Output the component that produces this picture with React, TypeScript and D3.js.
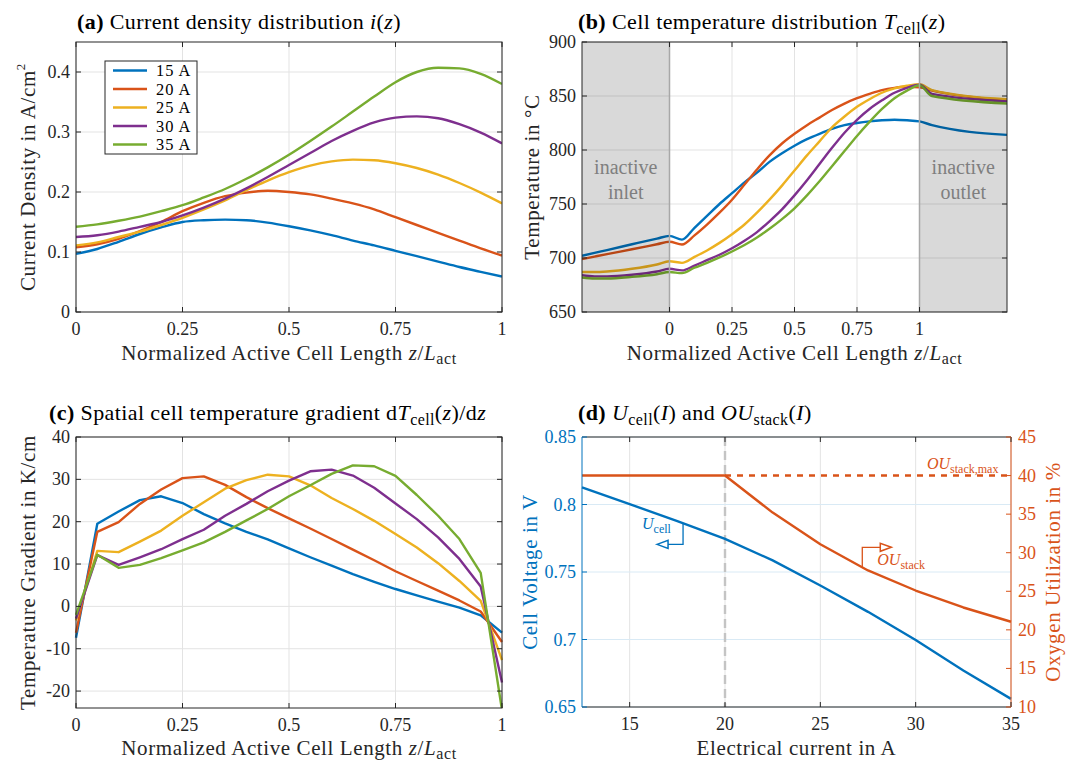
import React from "react";
import * as d3 from "d3";

// ---------- data ----------
const COLORS = ["#0072BD", "#D95319", "#EDB120", "#7E2F8E", "#77AC30"];
const seriesNames = ["15 A", "20 A", "25 A", "30 A", "35 A"];

// (a) current density vs normalized length
const zA = [0, 0.05, 0.1, 0.15, 0.2, 0.25, 0.3, 0.35, 0.4, 0.45, 0.5, 0.55, 0.6, 0.65, 0.7, 0.75, 0.8, 0.85, 0.9, 0.95, 1];
const iz15 = [0.097, 0.105, 0.117, 0.130, 0.141, 0.150, 0.153, 0.154, 0.153, 0.149, 0.143, 0.136, 0.128, 0.119, 0.111, 0.102, 0.093, 0.084, 0.075, 0.067, 0.059];
const iz20 = [0.108, 0.113, 0.122, 0.135, 0.150, 0.168, 0.182, 0.193, 0.199, 0.202, 0.200, 0.196, 0.189, 0.181, 0.171, 0.158, 0.145, 0.132, 0.119, 0.106, 0.094];
const iz25 = [0.111, 0.116, 0.125, 0.134, 0.145, 0.157, 0.171, 0.186, 0.203, 0.219, 0.233, 0.244, 0.251, 0.254, 0.253, 0.248, 0.240, 0.229, 0.215, 0.199, 0.181];
const iz30 = [0.125, 0.128, 0.134, 0.142, 0.150, 0.161, 0.174, 0.189, 0.206, 0.225, 0.245, 0.265, 0.285, 0.302, 0.316, 0.324, 0.326, 0.323, 0.313, 0.299, 0.281];
const iz35 = [0.142, 0.146, 0.152, 0.159, 0.168, 0.178, 0.191, 0.205, 0.222, 0.241, 0.262, 0.285, 0.309, 0.334, 0.359, 0.383, 0.400, 0.407, 0.406, 0.397, 0.380];
const currentDensity = [iz15, iz20, iz25, iz30, iz35];

// (b) cell temperature incl. inactive inlet/outlet
const zB = [-0.35, -0.3, -0.25, -0.15, -0.05, 0, 0.05, 0.1, 0.15, 0.2, 0.25, 0.3, 0.35, 0.4, 0.45, 0.5, 0.55, 0.6, 0.65, 0.7, 0.75, 0.8, 0.85, 0.9, 0.95, 1, 1.05, 1.35];
const T15 = [702, 704.7, 707.3, 712.7, 718, 720.5, 717, 728, 739, 750, 760, 770, 779, 789, 797, 804, 810, 815, 819.5, 823, 825, 826.5, 827.5, 828, 827.5, 826.5, 823, 814];
const T20 = [699, 701.3, 703.6, 708.1, 712.7, 715, 712.5, 721, 731, 742, 754, 768, 782, 795, 806, 815, 823, 830, 837, 843, 848, 852, 855.5, 857.5, 858.5, 858, 855, 846];
const T25 = [687, 687, 687.5, 690, 694, 697, 695.5, 701, 707, 714, 722, 731, 742, 754, 767, 781, 795, 808, 821, 831, 840, 847, 853, 857, 859.5, 861, 855.5, 847];
const T30 = [684, 683, 683, 684.5, 687.5, 690, 688.5, 693, 698, 703, 709, 716, 724, 734, 745, 758, 772, 787, 802, 816, 828, 838, 846, 853, 857.5, 860.5, 852, 845];
const T35 = [682, 681, 681, 682.5, 685, 687, 686, 691, 695.5, 700.5, 706, 712, 719, 727, 736, 746, 758, 771, 785, 799, 813, 826, 838, 848, 855, 860, 850, 843];
const cellTemp = [T15, T20, T25, T30, T35];

// (c) spatial temperature gradient
const g15 = [-7.4, 19.5, 22.4, 25.1, 26.0, 24.4, 21.8, 19.6, 17.6, 15.8, 13.7, 11.6, 9.6, 7.6, 5.8, 4.1, 2.6, 1.1, -0.3, -2.1, -6.2];
const g20 = [-6.2, 17.6, 19.9, 24.2, 27.6, 30.3, 30.7, 28.7, 25.8, 23.2, 20.8, 18.4, 15.9, 13.4, 10.9, 8.3, 6.0, 3.7, 1.4, -1.2, -8.4];
const g25 = [-3.3, 13.1, 12.8, 15.3, 17.9, 21.4, 24.6, 27.8, 29.8, 31.1, 30.7, 28.6, 25.6, 23.0, 20.2, 17.1, 13.9, 10.2, 6.0, 1.3, -12.7];
const g30 = [-2.9, 12.1, 9.8, 11.6, 13.5, 15.9, 18.1, 21.4, 24.2, 27.2, 29.7, 31.9, 32.3, 30.9, 28.0, 24.3, 20.6, 16.3, 11.2, 4.7, -18.0];
const g35 = [-2.0, 12.2, 9.1, 9.8, 11.4, 13.2, 15.1, 17.6, 20.3, 23.0, 26.0, 28.6, 31.3, 33.3, 33.1, 30.8, 26.3, 21.4, 15.9, 7.9, -24.5];
const tempGradient = [g15, g20, g25, g30, g35];

// (d) cell voltage & oxygen utilization vs current
const currentI = [12.5, 15, 17.5, 20, 22.5, 25, 27.5, 30, 32.5, 35];
const uCell = [0.8127, 0.8003, 0.7876, 0.7746, 0.7586, 0.7400, 0.7205, 0.6996, 0.6770, 0.6560];
const ouStack = [40, 40, 40, 40, 35.2, 31.1, 27.7, 25.1, 22.9, 21.05];
const ouMax = 40;
const iSwitch = 20;

// ticks
const xTicksZ = [0, 0.25, 0.5, 0.75, 1];
const yTicksA = [0, 0.1, 0.2, 0.3, 0.4];
const yTicksB = [650, 700, 750, 800, 850, 900];
const yTicksC = [-20, -10, 0, 10, 20, 30, 40];
const xTicksD = [15, 20, 25, 30, 35];
const yTicksDL = [0.65, 0.7, 0.75, 0.8, 0.85];
const yTicksDR = [10, 15, 20, 25, 30, 35, 40, 45];

// ---------- styles ----------
const FONT = "'Liberation Serif', 'Times New Roman', serif";
const AX = "#262626";
const GRID = "#e3e3e3";
const TICK_FS = 18;
const LABEL_FS = 21;
const LABEL_LS = 0.6;
const TITLE_FS = 22;
const TITLE_LS = 0.4;
const SUB_FS = 16;
const LW = 2.4;
const TL = 5;

const fmt = (v: number) => String(+v.toFixed(3));

type Box = { l: number; r: number; t: number; b: number };

function Grid({ box, x, y, xTicks, yTicks }: any) {
  return (
    <g>
      {xTicks.map((v: number) => (
        <line key={"gx" + v} x1={x(v)} x2={x(v)} y1={box.t} y2={box.b} stroke={GRID} strokeWidth={1} />
      ))}
      {yTicks.map((v: number) => (
        <line key={"gy" + v} x1={box.l} x2={box.r} y1={y(v)} y2={y(v)} stroke={GRID} strokeWidth={1} />
      ))}
    </g>
  );
}

function Axes({ box, x, y, xTicks, yTicks }: any) {
  return (
    <g>
      <rect x={box.l} y={box.t} width={box.r - box.l} height={box.b - box.t} fill="none" stroke={AX} strokeWidth={1} />
      {xTicks.map((v: number) => (
        <g key={"tx" + v}>
          <line x1={x(v)} x2={x(v)} y1={box.b} y2={box.b - TL} stroke={AX} />
          <line x1={x(v)} x2={x(v)} y1={box.t} y2={box.t + TL} stroke={AX} />
          <text x={x(v)} y={box.b + 17} textAnchor="middle" dominantBaseline="central" fontSize={TICK_FS} fill={AX}>
            {fmt(v)}
          </text>
        </g>
      ))}
      {yTicks.map((v: number) => (
        <g key={"ty" + v}>
          <line x1={box.l} x2={box.l + TL} y1={y(v)} y2={y(v)} stroke={AX} />
          <line x1={box.r} x2={box.r - TL} y1={y(v)} y2={y(v)} stroke={AX} />
          <text x={box.l - 6} y={y(v)} textAnchor="end" dominantBaseline="central" fontSize={TICK_FS} fill={AX}>
            {fmt(v)}
          </text>
        </g>
      ))}
    </g>
  );
}

function XLabelZ({ cx, cy }: any) {
  return (
    <text x={cx} y={cy} textAnchor="middle" dominantBaseline="central" fontSize={LABEL_FS} letterSpacing={LABEL_LS} fill={AX}>
      Normalized Active Cell Length <tspan fontStyle="italic">z</tspan>/<tspan fontStyle="italic">L</tspan><tspan dy={5} fontSize={SUB_FS}>act</tspan>
    </text>
  );
}

// ---------- panels ----------
function PanelA() {
  const box: Box = { l: 76, r: 502, t: 42, b: 312 };
  const x = d3.scaleLinear().domain([0, 1]).range([box.l, box.r]);
  const y = d3.scaleLinear().domain([0, 0.45]).range([box.b, box.t]);
  const line = d3.line<number>().x((_, k) => x(zA[k])).y((d) => y(d)).curve(d3.curveMonotoneX);
  return (
    <g>
      <Grid box={box} x={x} y={y} xTicks={xTicksZ} yTicks={yTicksA} />
      <clipPath id="clipA"><rect x={box.l} y={box.t} width={box.r - box.l} height={box.b - box.t} /></clipPath>
      <g clipPath="url(#clipA)">
        {currentDensity.map((s, k) => (
          <path key={k} d={line(s) || ""} fill="none" stroke={COLORS[k]} strokeWidth={LW} strokeLinejoin="round" />
        ))}
      </g>
      <Axes box={box} x={x} y={y} xTicks={xTicksZ} yTicks={yTicksA} />
      {/* legend */}
      <g>
        <rect x={105} y={61} width={92} height={93} fill="#fff" stroke={AX} strokeWidth={1} />
        {seriesNames.map((n, k) => (
          <g key={n}>
            <line x1={113} x2={147} y1={70.5 + k * 18.5} y2={70.5 + k * 18.5} stroke={COLORS[k]} strokeWidth={LW} />
            <text x={156} y={70.5 + k * 18.5} dominantBaseline="central" fontSize={16.4} letterSpacing={1} fill="#000">{n}</text>
          </g>
        ))}
      </g>
      <text x={77} y={29} fontSize={TITLE_FS} letterSpacing={TITLE_LS} fill="#000">
        <tspan fontWeight="bold">(a)</tspan> Current density distribution <tspan fontStyle="italic">i</tspan>(<tspan fontStyle="italic">z</tspan>)
      </text>
      <text transform={`translate(28,${(box.t + box.b) / 2}) rotate(-90)`} textAnchor="middle" dominantBaseline="central" fontSize={LABEL_FS} letterSpacing={LABEL_LS} fill={AX}>
        Current Density in A/cm<tspan dy={-8} fontSize={13}>2</tspan>
      </text>
      <XLabelZ cx={(box.l + box.r) / 2} cy={353} />
    </g>
  );
}

function PanelB() {
  const box: Box = { l: 582, r: 1007, t: 42, b: 312 };
  const x = d3.scaleLinear().domain([-0.35, 1.35]).range([box.l, box.r]);
  const y = d3.scaleLinear().domain([650, 900]).range([box.b, box.t]);
  const line = d3.line<number>().x((_, k) => x(zB[k])).y((d) => y(d)).curve(d3.curveMonotoneX);
  return (
    <g>
      <Grid box={box} x={x} y={y} xTicks={xTicksZ} yTicks={yTicksB} />
      <clipPath id="clipB"><rect x={box.l} y={box.t} width={box.r - box.l} height={box.b - box.t} /></clipPath>
      <g clipPath="url(#clipB)">
        {cellTemp.map((s, k) => (
          <path key={k} d={line(s) || ""} fill="none" stroke={COLORS[k]} strokeWidth={LW} strokeLinejoin="round" />
        ))}
      </g>
      {/* inactive regions */}
      <rect x={box.l} y={box.t} width={x(0) - box.l} height={box.b - box.t} fill="#000" fillOpacity={0.15} />
      <rect x={x(1)} y={box.t} width={box.r - x(1)} height={box.b - box.t} fill="#000" fillOpacity={0.15} />
      <line x1={x(0)} x2={x(0)} y1={box.t} y2={box.b} stroke="#a8a8a8" strokeWidth={1.5} />
      <line x1={x(1)} x2={x(1)} y1={box.t} y2={box.b} stroke="#a8a8a8" strokeWidth={1.5} />
      <text x={x(-0.175)} y={167} textAnchor="middle" dominantBaseline="central" fontSize={20} fill="#7f7f7f">inactive</text>
      <text x={x(-0.175)} y={192} textAnchor="middle" dominantBaseline="central" fontSize={20} fill="#7f7f7f">inlet</text>
      <text x={x(1.175)} y={167} textAnchor="middle" dominantBaseline="central" fontSize={20} fill="#7f7f7f">inactive</text>
      <text x={x(1.175)} y={192} textAnchor="middle" dominantBaseline="central" fontSize={20} fill="#7f7f7f">outlet</text>
      <Axes box={box} x={x} y={y} xTicks={xTicksZ} yTicks={yTicksB} />
      <text x={578} y={29} fontSize={TITLE_FS} letterSpacing={TITLE_LS} fill="#000">
        <tspan fontWeight="bold">(b)</tspan> Cell temperature distribution <tspan fontStyle="italic">T</tspan><tspan dy={5} fontSize={SUB_FS}>cell</tspan><tspan dy={-5}>(</tspan><tspan fontStyle="italic">z</tspan>)
      </text>
      <text transform={`translate(532,${(box.t + box.b) / 2}) rotate(-90)`} textAnchor="middle" dominantBaseline="central" fontSize={LABEL_FS} letterSpacing={LABEL_LS} fill={AX}>
        Temperature in °C
      </text>
      <XLabelZ cx={(box.l + box.r) / 2} cy={353} />
    </g>
  );
}

function PanelC() {
  const box: Box = { l: 76, r: 502, t: 437, b: 708 };
  const x = d3.scaleLinear().domain([0, 1]).range([box.l, box.r]);
  const y = d3.scaleLinear().domain([-24, 40]).range([box.b, box.t]);
  const line = d3.line<number>().x((_, k) => x(zA[k])).y((d) => y(d));
  return (
    <g>
      <Grid box={box} x={x} y={y} xTicks={xTicksZ} yTicks={yTicksC} />
      <clipPath id="clipC"><rect x={box.l - 2} y={box.t} width={box.r - box.l + 4} height={box.b - box.t} /></clipPath>
      <g clipPath="url(#clipC)">
        {tempGradient.map((s, k) => (
          <path key={k} d={line(s) || ""} fill="none" stroke={COLORS[k]} strokeWidth={LW} strokeLinejoin="round" />
        ))}
      </g>
      <Axes box={box} x={x} y={y} xTicks={xTicksZ} yTicks={yTicksC} />
      <text x={49} y={420} fontSize={TITLE_FS} letterSpacing={TITLE_LS} fill="#000">
        <tspan fontWeight="bold">(c)</tspan> Spatial cell temperature gradient d<tspan fontStyle="italic">T</tspan><tspan dy={5} fontSize={SUB_FS}>cell</tspan><tspan dy={-5}>(</tspan><tspan fontStyle="italic">z</tspan>)/d<tspan fontStyle="italic">z</tspan>
      </text>
      <text transform={`translate(28,${(box.t + box.b) / 2}) rotate(-90)`} textAnchor="middle" dominantBaseline="central" fontSize={LABEL_FS} letterSpacing={LABEL_LS} fill={AX}>
        Temperature Gradient in K/cm
      </text>
      <XLabelZ cx={(box.l + box.r) / 2} cy={748} />
    </g>
  );
}

function PanelD() {
  const box: Box = { l: 582, r: 1011, t: 437, b: 707 };
  const BLUE = COLORS[0];
  const ORANGE = COLORS[1];
  const x = d3.scaleLinear().domain([12.5, 35]).range([box.l, box.r]);
  const yL = d3.scaleLinear().domain([0.65, 0.85]).range([box.b, box.t]);
  const yR = d3.scaleLinear().domain([10, 45]).range([box.b, box.t]);
  const lineU = d3.line<number>().x((_, k) => x(currentI[k])).y((d) => yL(d));
  const lineOU = d3.line<number>().x((_, k) => x(currentI[k])).y((d) => yR(d));
  // annotation anchors on the curves
  const aU = 17.8;
  const aUy = yL(d3.scaleLinear().domain(currentI).range(uCell)(aU));
  const aO = 27.2;
  const aOy = yR(d3.scaleLinear().domain(currentI).range(ouStack)(aO));
  const uAx = x(aU);
  const oAx = x(aO);
  return (
    <g>
      {xTicksD.map((v) => (
        <line key={"gx" + v} x1={x(v)} x2={x(v)} y1={box.t} y2={box.b} stroke={GRID} strokeWidth={1} />
      ))}
      {yTicksDL.map((v) => (
        <line key={"gy" + v} x1={box.l} x2={box.r} y1={yL(v)} y2={yL(v)} stroke="#d9eaf5" strokeWidth={1} />
      ))}
      <line x1={x(iSwitch)} x2={x(iSwitch)} y1={box.t} y2={box.b} stroke="#c4c4c4" strokeWidth={2.4} strokeDasharray="9,5" />
      <path d={lineU(uCell) || ""} fill="none" stroke={BLUE} strokeWidth={LW} />
      <line x1={x(iSwitch)} x2={x(35)} y1={yR(ouMax)} y2={yR(ouMax)} stroke={ORANGE} strokeWidth={LW} strokeDasharray="6,6" />
      <path d={lineOU(ouStack) || ""} fill="none" stroke={ORANGE} strokeWidth={LW} strokeLinejoin="round" />
      {/* annotations */}
      <polyline points={`${uAx},${aUy} ${uAx},${aUy + 21} ${uAx - 22},${aUy + 21}`} fill="none" stroke={BLUE} strokeWidth={1.3} />
      <polygon points={`${uAx - 26},${aUy + 21} ${uAx - 15},${aUy + 17} ${uAx - 15},${aUy + 25}`} fill="#fff" stroke={BLUE} strokeWidth={1.5} />
      <text x={uAx - 41} y={aUy + 6} fontSize={16} fill={BLUE}>
        <tspan fontStyle="italic">U</tspan><tspan dy={4} fontSize={12}>cell</tspan>
      </text>
      <polyline points={`${oAx},${aOy} ${oAx},${aOy - 20} ${oAx + 20},${aOy - 20}`} fill="none" stroke={ORANGE} strokeWidth={1.3} />
      <polygon points={`${oAx + 29},${aOy - 20} ${oAx + 18},${aOy - 24} ${oAx + 18},${aOy - 16}`} fill="#fff" stroke={ORANGE} strokeWidth={1.5} />
      <text x={oAx + 15} y={aOy - 2} fontSize={16} fill={ORANGE}>
        <tspan fontStyle="italic">OU</tspan><tspan dy={4} fontSize={12}>stack</tspan>
      </text>
      <text x={927} y={469} fontSize={16} fill={ORANGE}>
        <tspan fontStyle="italic">OU</tspan><tspan dy={4} fontSize={12}>stack,max</tspan>
      </text>
      {/* axes */}
      <line x1={box.l} x2={box.r} y1={box.t} y2={box.t} stroke={AX} />
      <line x1={box.l} x2={box.r} y1={box.b} y2={box.b} stroke={AX} />
      <line x1={box.l} x2={box.l} y1={box.t} y2={box.b} stroke={BLUE} />
      <line x1={box.r} x2={box.r} y1={box.t} y2={box.b} stroke={ORANGE} />
      {xTicksD.map((v) => (
        <g key={"tx" + v}>
          <line x1={x(v)} x2={x(v)} y1={box.b} y2={box.b - TL} stroke={AX} />
          <line x1={x(v)} x2={x(v)} y1={box.t} y2={box.t + TL} stroke={AX} />
          <text x={x(v)} y={box.b + 17} textAnchor="middle" dominantBaseline="central" fontSize={TICK_FS} fill={AX}>{fmt(v)}</text>
        </g>
      ))}
      {yTicksDL.map((v) => (
        <g key={"tl" + v}>
          <line x1={box.l} x2={box.l + TL} y1={yL(v)} y2={yL(v)} stroke={BLUE} />
          <text x={box.l - 6} y={yL(v)} textAnchor="end" dominantBaseline="central" fontSize={TICK_FS} fill={BLUE}>{fmt(v)}</text>
        </g>
      ))}
      {yTicksDR.map((v) => (
        <g key={"tr" + v}>
          <line x1={box.r} x2={box.r - TL} y1={yR(v)} y2={yR(v)} stroke={ORANGE} />
          <text x={box.r + 7} y={yR(v)} textAnchor="start" dominantBaseline="central" fontSize={TICK_FS} fill={ORANGE}>{fmt(v)}</text>
        </g>
      ))}
      <text x={578} y={420} fontSize={TITLE_FS} letterSpacing={TITLE_LS} fill="#000">
        <tspan fontWeight="bold">(d)</tspan> <tspan fontStyle="italic">U</tspan><tspan dy={5} fontSize={SUB_FS}>cell</tspan><tspan dy={-5}>(</tspan><tspan fontStyle="italic">I</tspan>) and <tspan fontStyle="italic">OU</tspan><tspan dy={5} fontSize={SUB_FS}>stack</tspan><tspan dy={-5}>(</tspan><tspan fontStyle="italic">I</tspan>)
      </text>
      <text transform={`translate(530,${(box.t + box.b) / 2}) rotate(-90)`} textAnchor="middle" dominantBaseline="central" fontSize={LABEL_FS} letterSpacing={LABEL_LS} fill={BLUE}>
        Cell Voltage in V
      </text>
      <text transform={`translate(1053,${(box.t + box.b) / 2}) rotate(-90)`} textAnchor="middle" dominantBaseline="central" fontSize={LABEL_FS} letterSpacing={LABEL_LS} fill={ORANGE}>
        Oxygen Utilization in %
      </text>
      <text x={(box.l + box.r) / 2} y={748} textAnchor="middle" dominantBaseline="central" fontSize={LABEL_FS} letterSpacing={LABEL_LS} fill={AX}>
        Electrical current in A
      </text>
    </g>
  );
}

export default function App() {
  return (
    <div style={{ position: "absolute", left: 0, top: 0 }}>
      <svg width={1073} height={762} viewBox="0 0 1073 762" style={{ display: "block", fontFamily: FONT, background: "#fff" }}>
        <rect width={1073} height={762} fill="#fff" />
        <PanelA />
        <PanelB />
        <PanelC />
        <PanelD />
      </svg>
    </div>
  );
}
